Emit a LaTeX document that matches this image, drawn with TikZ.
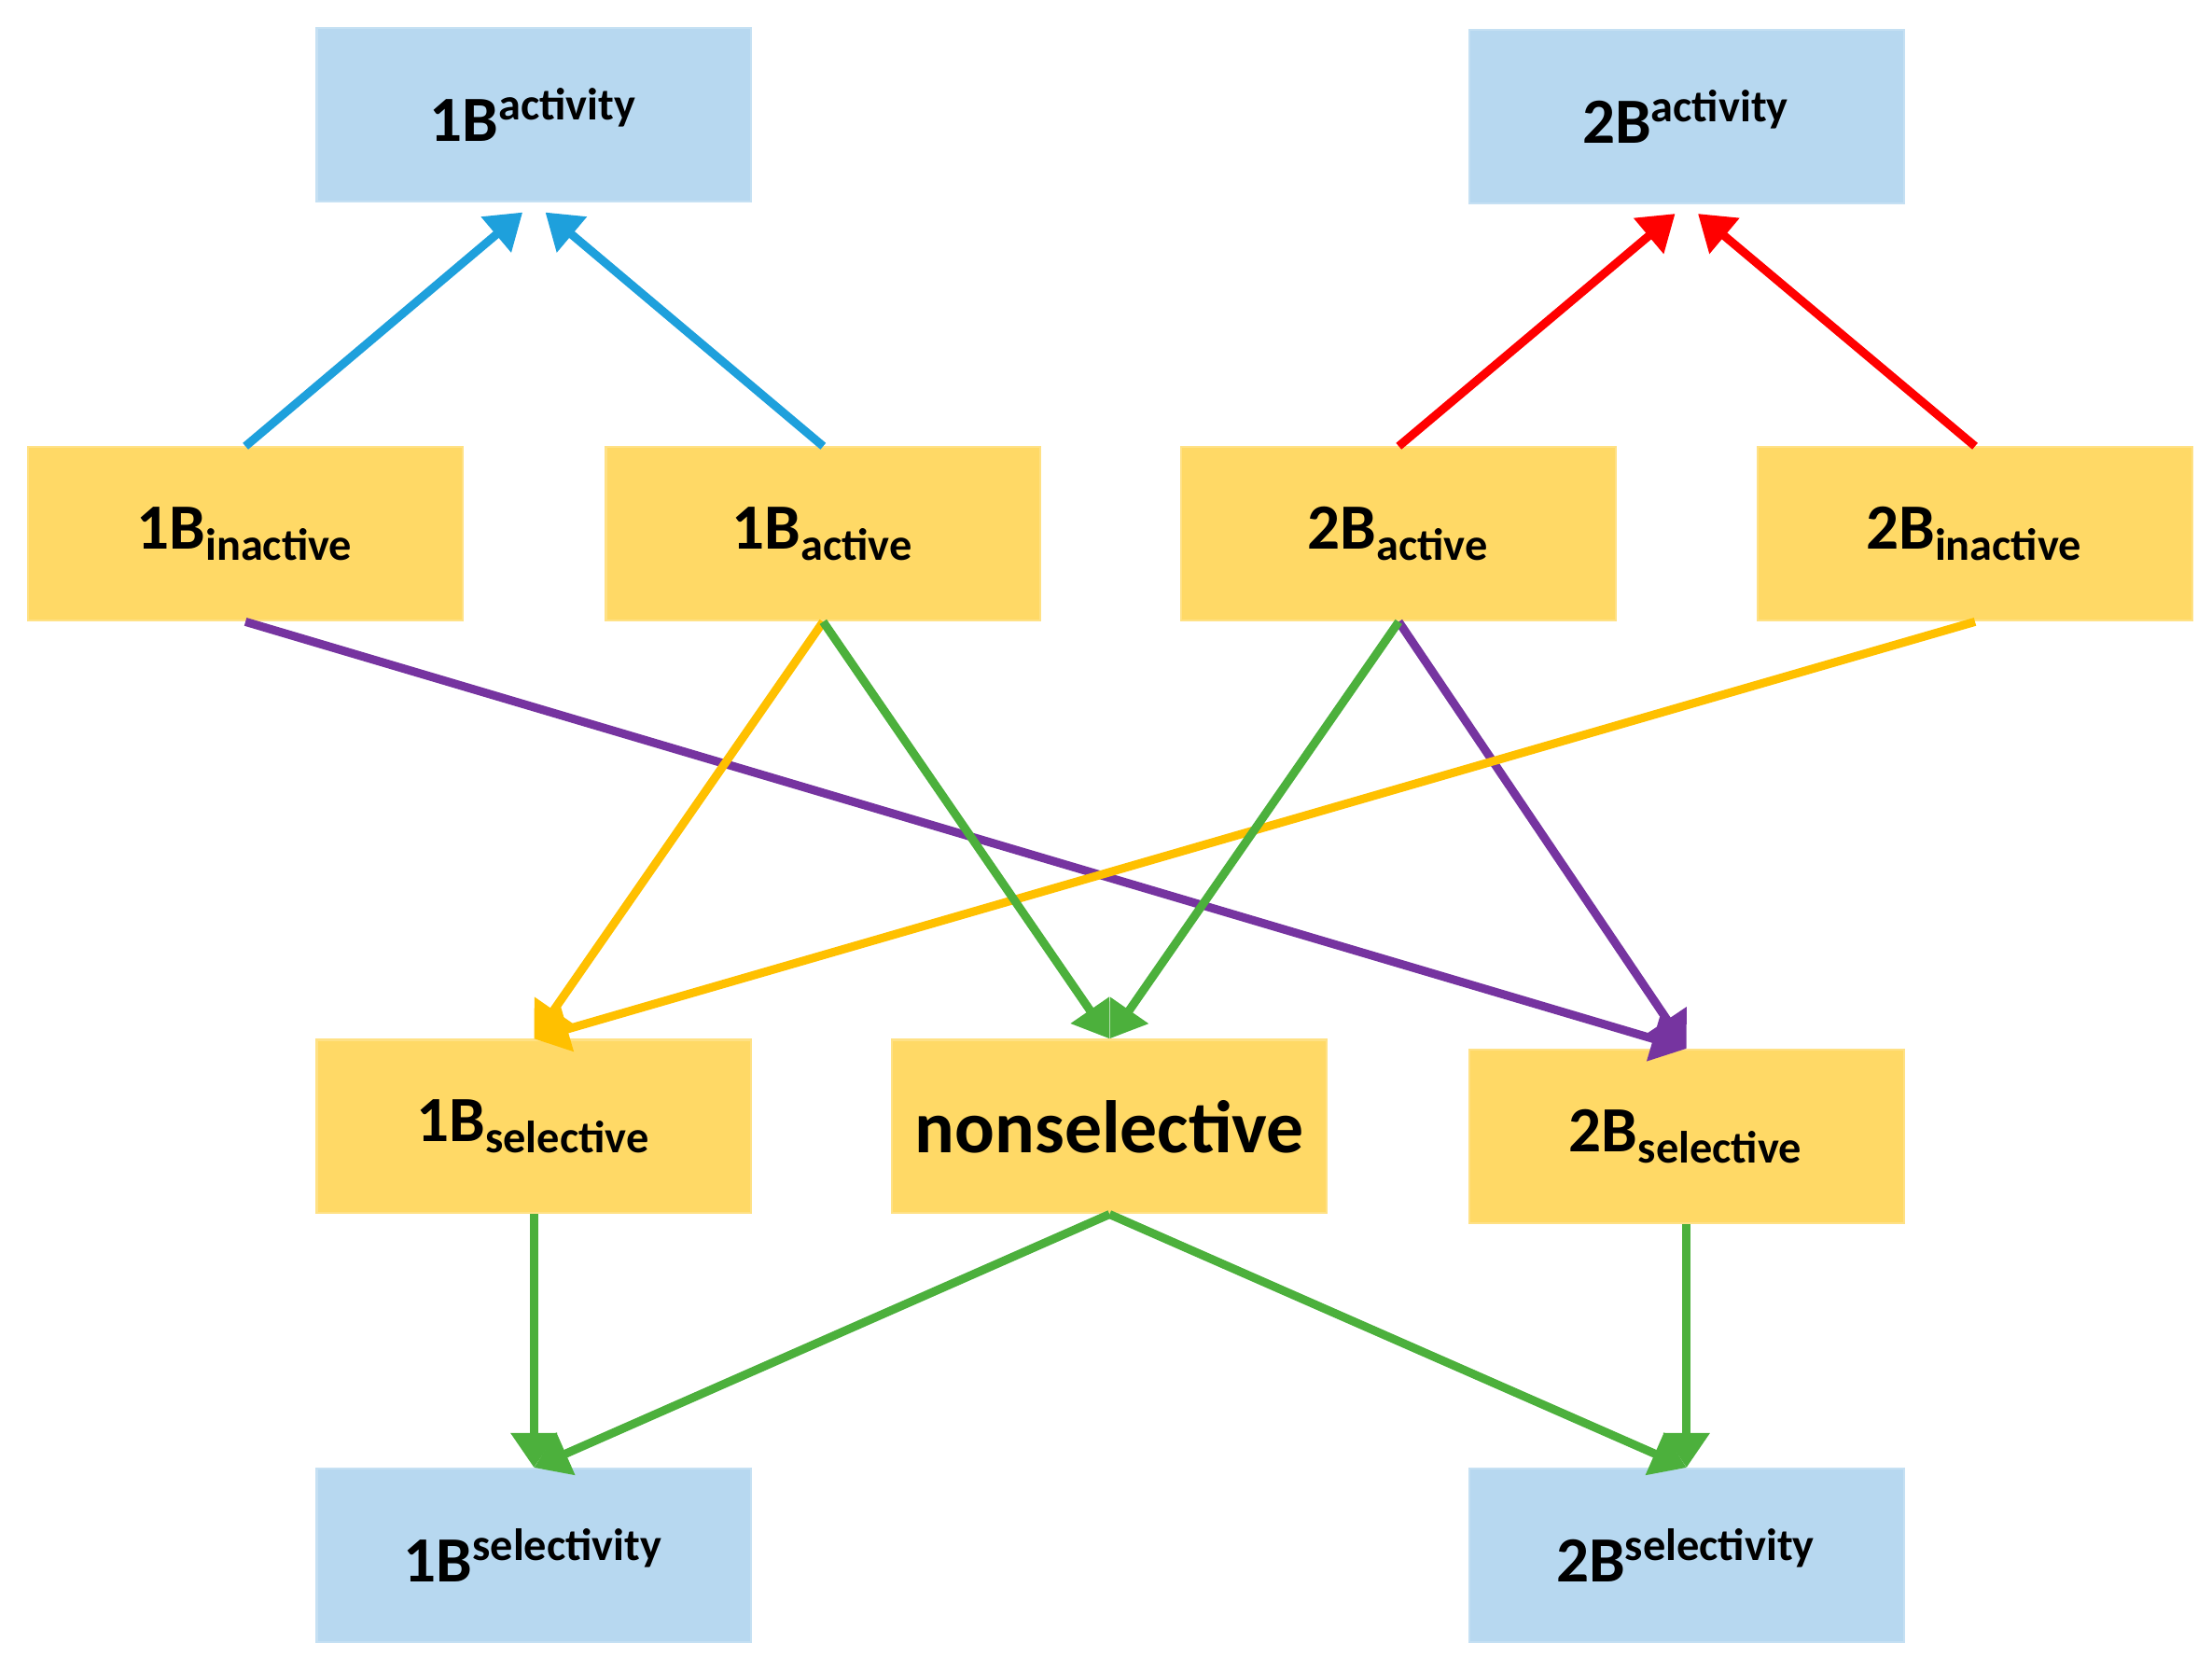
\documentclass[tikz,border=0pt]{standalone}
\usepackage{fontspec}
\setmainfont{Carlito}
\usetikzlibrary{arrows.meta}
\definecolor{bbox}{RGB}{183,216,240}
\definecolor{ybox}{RGB}{255,217,102}
\definecolor{cblue}{RGB}{30,160,220}
\definecolor{cred}{RGB}{255,0,0}
\definecolor{cpurple}{RGB}{118,52,160}
\definecolor{cyel}{RGB}{255,192,0}
\definecolor{cgreen}{RGB}{76,176,60}
\begin{document}
\begin{tikzpicture}[x=1cm,y=-1cm,
  box/.style={minimum width=3.08cm,minimum height=1.23cm,inner sep=0pt,font=\bfseries\fontsize{13}{15}\selectfont},
  bb/.style={box,fill=bbox,draw=bbox!80!white},
  yb/.style={box,fill=ybox,draw=ybox!80!white},
  ar/.style={line width=1.7pt,-{Triangle[length=7pt,width=9pt]}}]
\useasboundingbox (0,0) rectangle (15.68,11.84);
\node[bb] (a1) at (3.785,0.815) {1B\textsuperscript{activity}};
\node[bb] (a2) at (11.955,0.825) {2B\textsuperscript{activity}};
\node[yb] (i1) at (1.74,3.785) {1B\textsubscript{inactive}};
\node[yb] (c1) at (5.835,3.785) {1B\textsubscript{active}};
\node[yb] (c2) at (9.915,3.785) {2B\textsubscript{active}};
\node[yb] (i2) at (14.0,3.785) {2B\textsubscript{inactive}};
\node[yb] (s1) at (3.785,7.985) {1B\textsubscript{selective}};
\node[yb] (ns) at (7.865,7.985) {\fontsize{15}{17}\selectfont nonselective};
\node[yb] (s2) at (11.955,8.055) {2B\textsubscript{selective}};
\node[bb] (v1) at (3.785,11.025) {1B\textsuperscript{selectivity}};
\node[bb] (v2) at (11.955,11.025) {2B\textsuperscript{selectivity}};
\draw[ar,cblue,shorten >=3pt] (i1.north) -- (a1.south);
\draw[ar,cblue,shorten >=3pt] (c1.north) -- (a1.south);
\draw[ar,cred,shorten >=3pt] (c2.north) -- (a2.south);
\draw[ar,cred,shorten >=3pt] (i2.north) -- (a2.south);
\draw[ar,cpurple] (i1.south) -- (s2.north);
\draw[ar,cpurple] (c2.south) -- (s2.north);
\draw[ar,cyel] (c1.south) -- (s1.north);
\draw[ar,cyel] (i2.south) -- (s1.north);
\draw[ar,cgreen] (c1.south) -- (ns.north);
\draw[ar,cgreen] (c2.south) -- (ns.north);
\draw[ar,cgreen] (s1.south) -- (v1.north);
\draw[ar,cgreen] (ns.south) -- (v1.north);
\draw[ar,cgreen] (ns.south) -- (v2.north);
\draw[ar,cgreen] (s2.south) -- (v2.north);
\end{tikzpicture}
\end{document}
